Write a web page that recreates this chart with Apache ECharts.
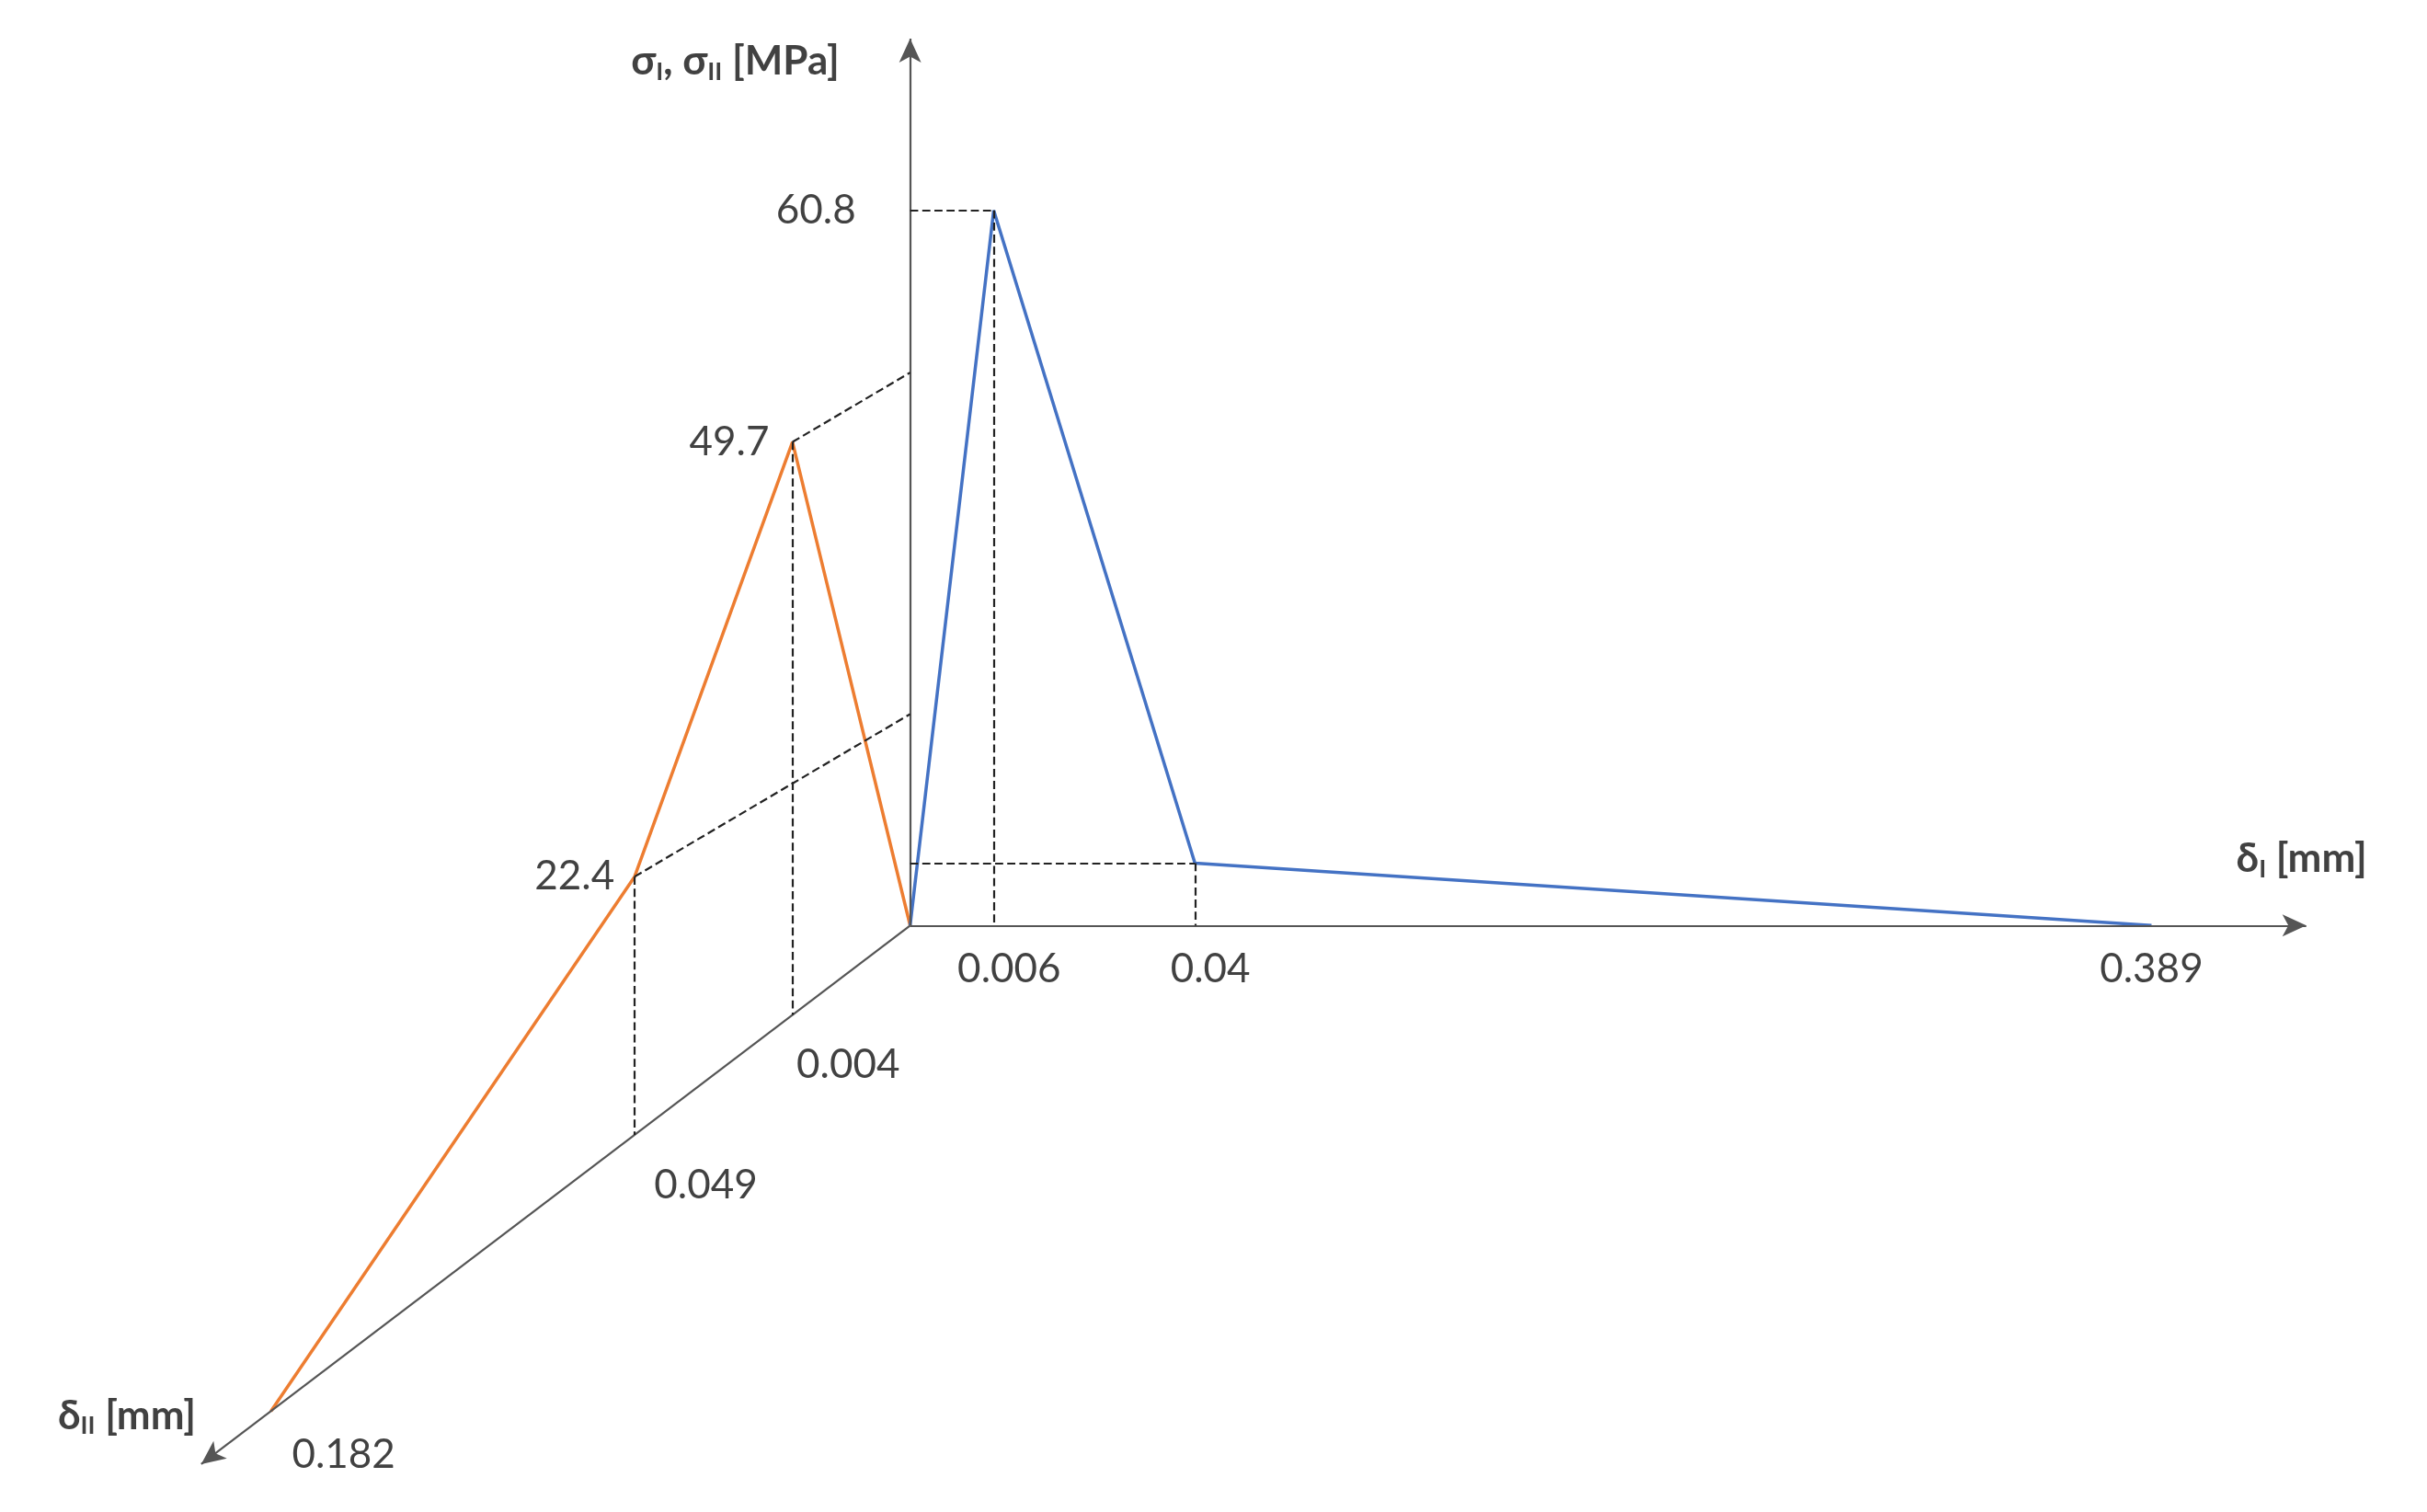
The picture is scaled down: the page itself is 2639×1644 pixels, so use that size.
<!DOCTYPE html>
<html>
<head>
<meta charset="utf-8">
<script src="https://cdn.jsdelivr.net/npm/echarts@6/dist/echarts.min.js"></script>
<style>html,body{margin:0;padding:0;background:#fff}#chart{width:2639px;height:1644px}</style>
</head>
<body>
<div id="chart"></div>
<script>
// mode I (blue): opening δI [mm] and stress σI [MPa]
var deltaI = [0, 0.006, 0.04, 0.389];
var sigmaI = [0, 60.8, 5.3, 0];
// mode II (orange): sliding δII [mm] and stress σII [MPa]
var deltaII = [0, 0.004, 0.049, 0.182];
var sigmaII = [0, 49.7, 22.4, 0];
// tick labels
var deltaITicks = ['0.006', '0.04', '0.389'];
var deltaIITicks = ['0.004', '0.049', '0.182'];
var sigmaTicks = ['60.8', '49.7', '22.4'];

// schematic (not to scale) axis layout, in drawing units
var O = [588, 598];
var posI = [0, 54, 184, 802];          // offset along δI axis for each deltaI value
var posII = [0, 76, 178, 413];         // offset along δII axis for each deltaII value
var slopeII = 0.76;                    // δII axis direction (down-left)
var sigScale = 7.6;                    // units per MPa
var projSlope = 0.59;                  // slope of projection guide lines

function ptI(i, s) { return [O[0] + posI[i], O[1] - s * sigScale]; }
function baseII(i) { return [O[0] - posII[i], O[1] + posII[i] * slopeII]; }
function ptII(i, s) { var b = baseII(i); return [b[0], b[1] - s * sigScale * 0.98]; }

var blue = '#4472C4', orange = '#ED7D31', font = 'Lato, "Open Sans", sans-serif';

var blueData = deltaI.map(function (d, i) { return ptI(i, sigmaI[i]); });
var orangeData = deltaII.map(function (d, i) { return ptII(i, sigmaII[i]); });

var dash = { type: 'dashed', color: '#222', width: 2.2, dashOffset: 0 };
var guides = [];
// blue guides
var pk = blueData[1], p2 = blueData[2];
guides.push([{ coord: [O[0], pk[1]] }, { coord: pk }]);
guides.push([{ coord: pk }, { coord: [pk[0], O[1]] }]);
guides.push([{ coord: [O[0], p2[1]] }, { coord: p2 }]);
guides.push([{ coord: p2 }, { coord: [p2[0], O[1]] }]);
// orange guides
[1, 2].forEach(function (i) {
  var p = orangeData[i], b = baseII(i);
  guides.push([{ coord: p }, { coord: b }]);
  var dx = O[0] - p[0];
  guides.push([{ coord: p }, { coord: [O[0], p[1] - dx * projSlope] }]);
});

var axesLines = [
  [{ coord: O }, { coord: [O[0], 25] }],
  [{ coord: O }, { coord: [1490, O[1]] }],
  [{ coord: O }, { coord: [130, O[1] + 458 * slopeII] }]
];

var lbl = { fontFamily: font, fontSize: 44, color: '#111' };
var tickPts = [];
deltaITicks.forEach(function (t, j) {
  var p = ptI(j + 1, 0);
  tickPts.push({ value: [p[0] + (j === 2 ? 0 : 10), O[1] + 28], text: t, align: 'center' });
});
var iiOff = [[36, 90], [46, 165], [47, 340 - 322]];
deltaIITicks.forEach(function (t, j) {
  var b = baseII(j + 1);
  tickPts.push({ value: [b[0] + iiOff[j][0], b[1] + (j === 2 ? 25 : iiOff[j][1] - (b[1] - O[1]) + 28 - 2 * 0)], text: t, align: 'center' });
});
tickPts[3].value = [548, 688]; tickPts[4].value = [456, 766]; tickPts[5].value = [222, 940];
tickPts.push({ value: [553, pk[1]], text: sigmaTicks[0], align: 'right' });
tickPts.push({ value: [497, orangeData[1][1]], text: sigmaTicks[1], align: 'right' });
tickPts.push({ value: [397, orangeData[2][1]], text: sigmaTicks[2], align: 'right' });

var titles = [
  { value: [475, 40], text: '{b|σ}{s|I}{b|, σ}{s|II}{b| [MPa]}' },
  { value: [1487, 555], text: '{b|δ}{s|I}{b| [mm]}' },
  { value: [82, 915], text: '{b|δ}{s|II}{b| [mm]}' }
];
var rich = {
  b: { fontFamily: font, fontSize: 44, fontWeight: 'bold', color: '#111' },
  s: { fontFamily: font, fontSize: 27, fontWeight: 'bold', color: '#111', padding: [22, 0, 0, 0] }
};

var chart = echarts.init(document.getElementById('chart'));
chart.setOption({
  animation: false,
  grid: { left: 0, right: 0, top: 0, bottom: 0 },
  xAxis: { type: 'value', min: 0, max: 1568, show: false },
  yAxis: { type: 'value', min: 0, max: 977, inverse: true, show: false },
  series: [
    {
      type: 'line', data: [], silent: true,
      markLine: { silent: true, symbol: ['none', 'arrow'], symbolSize: [18, 26], label: { show: false },
        lineStyle: { color: '#555', width: 2.2, type: 'solid' }, data: axesLines }
    },
    {
      type: 'line', data: [], silent: true,
      markLine: { silent: true, symbol: ['none', 'none'], label: { show: false }, lineStyle: dash, data: guides }
    },
    { type: 'line', data: orangeData, symbol: 'none', lineStyle: { color: orange, width: 3.5 } },
    { type: 'line', data: blueData, symbol: 'none', lineStyle: { color: blue, width: 3.5 } },
    {
      type: 'scatter', symbolSize: 0,
      data: tickPts.map(function (t) {
        return { value: t.value, label: { show: true, position: 'inside', formatter: t.text, align: t.align,
          verticalAlign: 'middle', fontFamily: font, fontSize: 44, color: '#111' } };
      })
    },
    {
      type: 'scatter', symbolSize: 0,
      data: titles.map(function (t) {
        return { value: t.value, label: { show: true, position: 'inside', formatter: t.text, rich: rich,
          align: 'center', verticalAlign: 'middle' } };
      })
    }
  ]
});
</script>
</body>
</html>
